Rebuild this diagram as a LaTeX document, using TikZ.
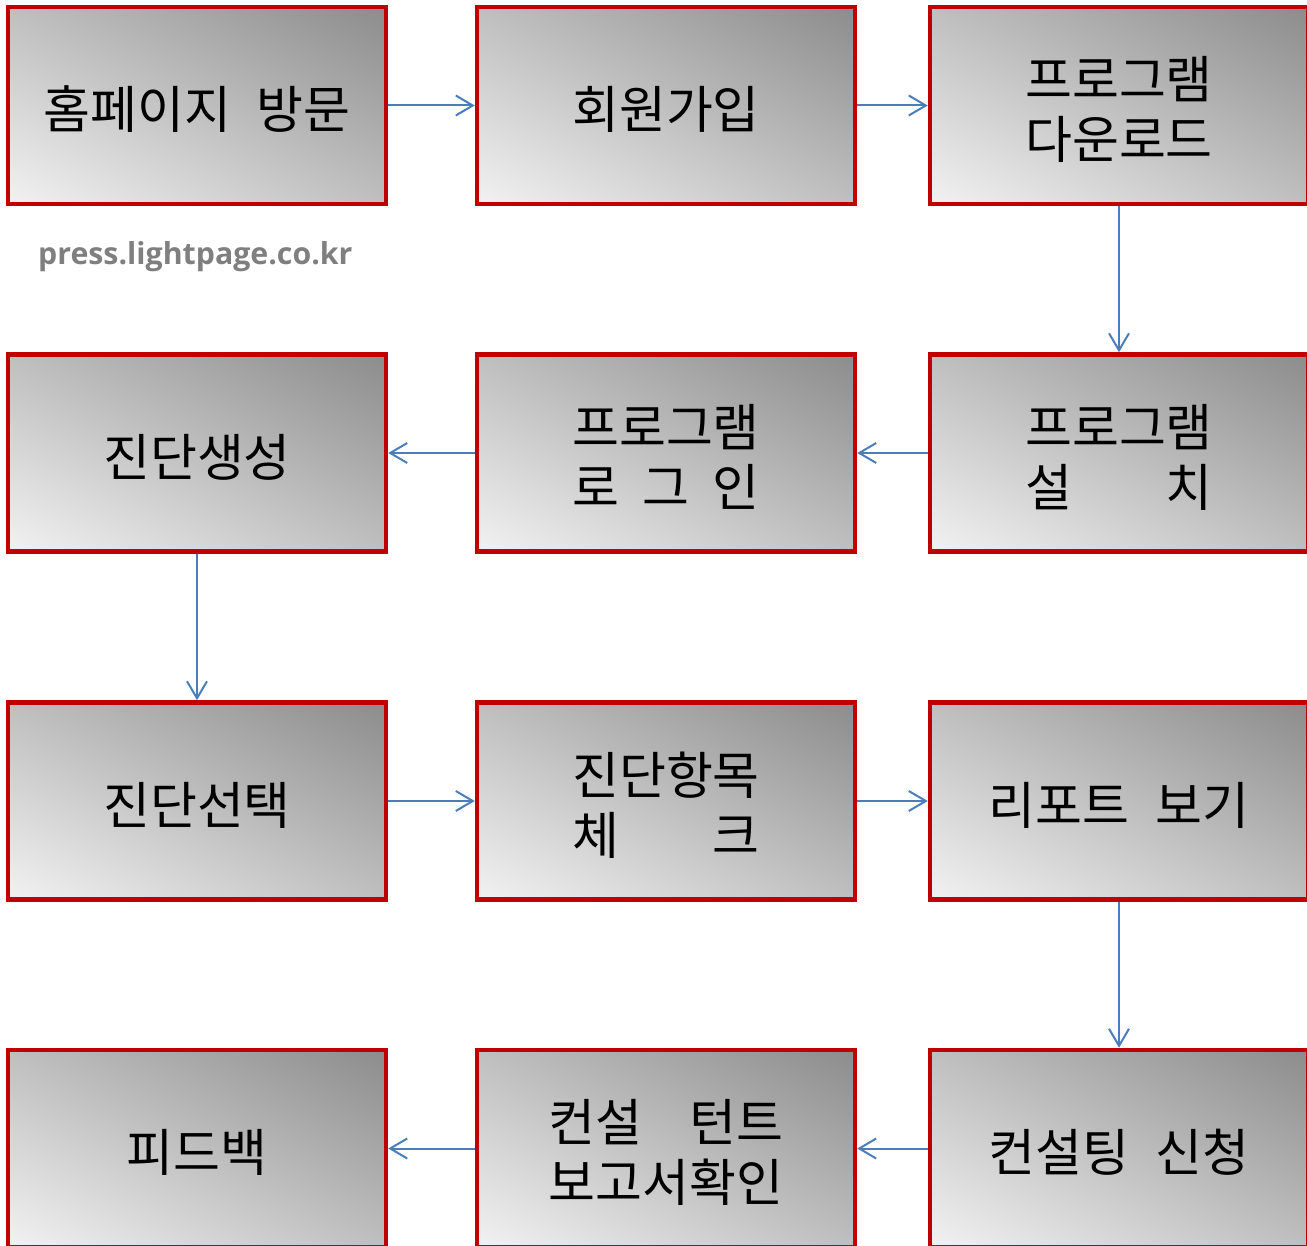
\documentclass[tikz,border=0pt]{standalone}
\usepackage{fontspec}
\newfontfamily\kr{Noto Sans CJK KR}
\newfontfamily\wm{Open Sans}
\usetikzlibrary{arrows.meta}
\definecolor{boxred}{HTML}{C00000}
\definecolor{arrblue}{HTML}{4A7EBB}
\definecolor{wmgray}{HTML}{7F7F7F}
% diagonal grey gradient: light (F2) at bottom-left corner, dark (8C) at top-right corner
\pgfdeclarefunctionalshading{diagsh}{\pgfpointorigin}{\pgfpoint{100bp}{100bp}}{}{
  add 50 sub 100 div -0.4 mul 0.949 add dup dup
}
\newlength\lnw
% one line of text, set 4pt below the box centre
\newcommand\onel[1]{\raisebox{0pt}[\dimexpr\height+8pt\relax][\depth]{#1}}
% two lines of text, the longer given first for the distributed width
\newcommand\twol[3]{\settowidth\lnw{#1}\raisebox{0pt}[\dimexpr\height+22pt\relax][\depth]{\begin{tabular}{@{}c@{}}#2\\#3\end{tabular}}}
\newcommand\spr[1]{\makebox[\lnw][s]{#1}}
\begin{document}
\begin{tikzpicture}[x=1pt,y=-1pt,
  stepbox/.style={draw=boxred, line width=4.5pt, minimum width=378pt, minimum height=197pt,
    inner sep=0pt, shading=diagsh,
    font=\kr\fontsize{51}{59.5}\selectfont, text=black},
  flow/.style={draw=arrblue, line width=2pt, -{Straight Barb[length=17pt,width=20pt]}}]
\useasboundingbox (0,0) rectangle (1307,1246);
\clip (0,0) rectangle (1307,1246);
% row 1
\node[stepbox] (n11) at (197,105.5) {\onel{홈페이지\hspace{0.5em}방문}};
\node[stepbox] (n12) at (666,105.5) {\onel{회원가입}};
\node[stepbox] (n13) at (1119,105.5) {\twol{프로그램}{프로그램}{다운로드}};
% row 2
\node[stepbox] (n21) at (197,453) {\onel{진단생성}};
\node[stepbox] (n22) at (666,453) {\twol{프로그램}{프로그램}{\spr{로\hfill{}그\hfill{}인}}};
\node[stepbox] (n23) at (1119,453) {\twol{프로그램}{프로그램}{\spr{설\hfill{}치}}};
% row 3
\node[stepbox] (n31) at (197,801) {\onel{진단선택}};
\node[stepbox] (n32) at (666,801) {\twol{진단항목}{진단항목}{\spr{체\hfill{}크}}};
\node[stepbox] (n33) at (1119,801) {\onel{리포트\hspace{0.5em}보기}};
% row 4
\node[stepbox] (n41) at (197,1148.5) {\onel{피드백}};
\node[stepbox] (n42) at (666,1148.5) {\twol{보고서확인}{\spr{컨설\hfill{}턴트}}{보고서확인}};
\node[stepbox] (n43) at (1119,1148.5) {\onel{컨설팅\hspace{0.5em}신청}};
% watermark
\node[anchor=base west, inner sep=0pt, text=wmgray, font=\wm\bfseries\fontsize{30.3}{32}\selectfont] (wm) at (38,265) {press.lightpage.co.kr};
% connectors
\draw[flow] (n11) -- (n12);
\draw[flow] (n12) -- (n13);
\draw[flow] (n13) -- (n23);
\draw[flow] (n23) -- (n22);
\draw[flow] (n22) -- (n21);
\draw[flow] (n21) -- (n31);
\draw[flow] (n31) -- (n32);
\draw[flow] (n32) -- (n33);
\draw[flow] (n33) -- (n43);
\draw[flow] (n43) -- (n42);
\draw[flow] (n42) -- (n41);
\end{tikzpicture}
\end{document}
